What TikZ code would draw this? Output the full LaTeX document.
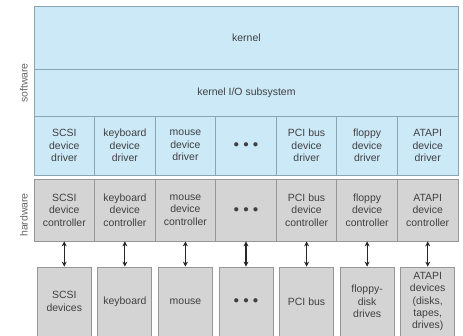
\documentclass[tikz,border=0pt]{standalone}
\usepackage{fontspec}
\setmainfont{Liberation Sans}
\usetikzlibrary{arrows.meta}

\definecolor{swfill}{RGB}{204,233,248}
\definecolor{swline}{RGB}{140,165,180}
\definecolor{hwfill}{RGB}{212,212,212}
\definecolor{hwline}{RGB}{150,150,150}

\tikzset{
    swbox/.style={draw=swline, fill=swfill, line width=0.8pt, align=center,
        inner sep=0pt, text=black!75, font=\fontsize{10.5}{12.5}\selectfont},
    hwbox/.style={draw=hwline, fill=hwfill, line width=0.8pt, align=center,
        inner sep=0pt, text=black!75, font=\fontsize{10.5}{12.5}\selectfont},
    side/.style={rotate=90, text=black!60, font=\fontsize{10.5}{12.5}\selectfont},
    link/.style={{Stealth[length=5pt,width=5pt]}-{Stealth[length=5pt,width=5pt]}, line width=1.2pt, black!85}
}

\begin{document}
\begin{tikzpicture}[x=1bp, y=-1bp]
    \clip (0,0) rectangle (463,335);
    \useasboundingbox (0,0) rectangle (463,335);

    % Software layers
    \node[swbox, minimum width=424bp, minimum height=63bp, anchor=north west] (kernel) at (34,6) {kernel};
    \node[swbox, minimum width=424bp, minimum height=47bp, anchor=north west] (kio) at (34,69) {kernel I/O subsystem};

    % Drivers, controllers and devices
    \foreach \i/\drv/\ctl/\dev in {
        1/{SCSI\\device\\driver}/{SCSI\\device\\controller}/{SCSI\\devices},
        2/{keyboard\\device\\driver}/{keyboard\\device\\controller}/{keyboard},
        3/{mouse\\device\\driver}/{mouse\\device\\controller}/{mouse},
        4/{$\bullet\,\bullet\,\bullet$}/{$\bullet\,\bullet\,\bullet$}/{$\bullet\,\bullet\,\bullet$},
        5/{PCI bus\\device\\driver}/{PCI bus\\device\\controller}/{PCI bus},
        6/{floppy\\device\\driver}/{floppy\\device\\controller}/{floppy-\\disk\\drives},
        7/{ATAPI\\device\\driver}/{ATAPI\\device\\controller}/{ATAPI\\devices\\(disks,\\tapes,\\drives)}} {
        \node[swbox, minimum width=60.57bp, minimum height=59bp] (drv\i) at (34+60.57*\i-30.285,145.5) {\drv};
        \node[hwbox, minimum width=60.57bp, minimum height=62bp] (ctl\i) at (34+60.57*\i-30.285,210) {\ctl};
        \node[hwbox, minimum width=54bp, minimum height=69bp] (dev\i) at (34+60.57*\i-30.285,301.5) {\dev};
        \draw[link] (ctl\i.south) -- (dev\i.north);
    }

    % Side labels
    \node[side] (swlabel) at (24,83) {software};
    \node[side] (hwlabel) at (24,215) {hardware};
\end{tikzpicture}
\end{document}
